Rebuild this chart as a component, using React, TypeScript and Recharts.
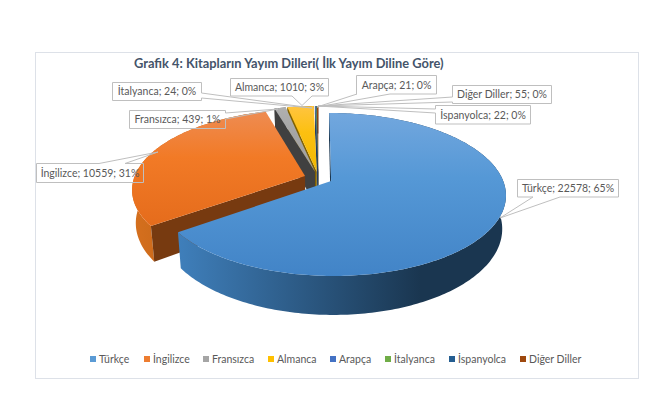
import { PieChart, Pie, Legend } from "recharts";

const NAMES = ["Türkçe", "İngilizce", "Fransızca", "Almanca", "Arapça", "İtalyanca", "İspanyolca", "Diğer Diller"];
const VALUES = [22578, 10559, 439, 1010, 21, 24, 22, 55];
const PERCENTS = [65, 31, 1, 3, 0, 0, 0, 0];
const COLORS = ["#5b9bd5", "#ed7d31", "#a5a5a5", "#ffc000", "#4472c4", "#70ad47", "#255e91", "#9e480e"];

const TOP_LIGHT = ["#72a7de", "#ee8c52", "#b0b0b0", "#ffc440", "#4472c4", "#70ad47", "#255e91", "#9e480e"];
const TOP_MID = ["#5598d6", "#f27a26", "#a5a5a5", "#fcc010", "#4472c4", "#70ad47", "#255e91", "#9e480e"];
const TOP_DARK = ["#4284c7", "#e56c1c", "#a0a0a0", "#f2b800", "#4472c4", "#70ad47", "#255e91", "#9e480e"];
const WALL_FROM = ["#3f7fbb", "#d6701e", "#555555", "#7f6000", "#223a66", "#38572a", "#12304a", "#4f2407"];
const WALL_TO = ["#1a3650", "#a85510", "#444444", "#7f6000", "#223a66", "#38572a", "#12304a", "#4f2407"];
const CUT = ["#1a3650", "#773a10", "#404040", "#7f6000", "#223a66", "#38572a", "#12304a", "#4f2407"];

// label boxes: x, y, w, h, side the pointer leaves from, pointer base a-b on that side, tip
const CALLOUTS: Record<string, { x: number; y: number; w: number; h: number; side: string; a: number; b: number; tip: number[] }> = {
  "Türkçe": { x: 517.5, y: 179.5, w: 101, h: 17.5, side: "b", a: 533, b: 560, tip: [500, 218] },
  "İngilizce": { x: 36.5, y: 163.5, w: 107, h: 19, side: "t", a: 99, b: 125, tip: [158, 152] },
  "Fransızca": { x: 129.5, y: 110.5, w: 96, h: 18, side: "r", a: 113, b: 119, tip: [278, 109] },
  "İtalyanca": { x: 112.5, y: 82.5, w: 89, h: 18, side: "r", a: 93, b: 98, tip: [312, 108] },
  "Almanca": { x: 230.5, y: 78.5, w: 98, h: 17.5, side: "b", a: 292, b: 312, tip: [302, 105.5] },
  "Arapça": { x: 356.5, y: 75.5, w: 80, h: 18.5, side: "b", a: 357, b: 390, tip: [317, 107] },
  "Diğer Diller": { x: 452.5, y: 85.5, w: 99, h: 18, side: "l", a: 97, b: 102, tip: [318, 106] },
  "İspanyolca": { x: 435.5, y: 105.5, w: 95, h: 18.5, side: "l", a: 109, b: 113, tip: [318, 106] },
};

const LEGEND_X = [90, 144, 203, 268, 330, 385, 449, 520];

const FONT = "Lato, 'Open Sans', sans-serif";
const TEXT = "#595959";

// 3d look of the pie: perspective, tilt, explosion, thickness
const PERSPECTIVE = 0.1647;
const TILT = 0.4577;
const EXPLODE = 0.083;
const DEPTH = 32.3;
const BOTTOM_SHRINK = 0.98;

const pieData = NAMES.map((name, i) => ({ name, value: VALUES[i], fill: COLORS[i] })).reverse();

function Slice3D(props: any) {
  const { cx, cy, outerRadius: R, startAngle, endAngle, name } = props;
  const i = NAMES.indexOf(name ?? props.payload?.name);
  const rad = (d: number) => (d * Math.PI) / 180;
  const t1 = 90 - Math.max(startAngle, endAngle);
  const t2 = 90 - Math.min(startAngle, endAngle);
  const mid = rad((t1 + t2) / 2);
  const u0 = EXPLODE * Math.sin(mid);
  const v0 = EXPLODE * Math.cos(mid);

  const pt = (u: number, v: number, low: boolean) => {
    const s = 1 / (1 + PERSPECTIVE * v);
    return [cx + R * u * s * (low ? BOTTOM_SHRINK : 1), cy - R * TILT * v * s + (low ? DEPTH * s : 0)];
  };
  const rim = (deg: number, low: boolean) => pt(u0 + Math.sin(rad(deg)), v0 + Math.cos(rad(deg)), low);

  const degs: number[] = [];
  for (let d = t1; d < t2; d += 1) degs.push(d);
  degs.push(t2);

  const path = (pts: number[][]) => "M" + pts.map((p) => p[0].toFixed(2) + " " + p[1].toFixed(2)).join("L") + "Z";
  const top = degs.map((d) => rim(d, false));
  const low = degs.map((d) => rim(d, true));
  const apexTop = pt(u0, v0, false);
  const apexLow = pt(u0, v0, true);

  // a cut face shows only when it turns towards the viewer
  const faces = (deg: number, sign: number) => {
    const nu = sign * Math.cos(rad(deg));
    const nv = -sign * Math.sin(rad(deg));
    return nu * (0 - u0) + nv * (-1 / PERSPECTIVE - v0) > 0;
  };
  const xs = top.map((p) => p[0]);
  const x1 = Math.min(...xs, apexTop[0]);
  const x2 = Math.max(...xs, apexTop[0]);

  return (
    <g>
      <defs>
        <linearGradient id={`top-${i}`} x1="0" y1="0" x2="0" y2="1">
          <stop offset="0" stopColor={TOP_LIGHT[i]} />
          <stop offset="0.4" stopColor={TOP_MID[i]} />
          <stop offset="1" stopColor={TOP_DARK[i]} />
        </linearGradient>
        <linearGradient id={`wall-${i}`} gradientUnits="userSpaceOnUse" x1={x1} y1="0" x2={x2} y2="0">
          <stop offset="0" stopColor={WALL_FROM[i]} />
          <stop offset="0.74" stopColor={WALL_TO[i]} />
          <stop offset="1" stopColor={WALL_TO[i]} />
        </linearGradient>
      </defs>
      <path d={path([...top, ...[...low].reverse()])} fill={`url(#wall-${i})`} />
      {faces(t1, -1) && <path d={path([apexTop, top[0], low[0], apexLow])} fill={CUT[i]} />}
      {faces(t2, 1) && <path d={path([apexTop, top[top.length - 1], low[low.length - 1], apexLow])} fill={CUT[i]} />}
      <path d={path([apexTop, ...top])} fill={`url(#top-${i})`} />
    </g>
  );
}

function calloutPath(c: (typeof CALLOUTS)[string]) {
  const r = c.x + c.w;
  const b = c.y + c.h;
  const tip = `L${c.tip[0]} ${c.tip[1]}`;
  let d = `M${c.x} ${c.y}`;
  if (c.side === "t") d += `L${c.a} ${c.y}${tip}L${c.b} ${c.y}`;
  d += `L${r} ${c.y}`;
  if (c.side === "r") d += `L${r} ${c.a}${tip}L${r} ${c.b}`;
  d += `L${r} ${b}`;
  if (c.side === "b") d += `L${c.b} ${b}${tip}L${c.a} ${b}`;
  d += `L${c.x} ${b}`;
  if (c.side === "l") d += `L${c.x} ${c.b}${tip}L${c.x} ${c.a}`;
  return d + "Z";
}

function renderLabel(props: any) {
  const name = props.name ?? props.payload?.name;
  const i = NAMES.indexOf(name);
  const c = CALLOUTS[name];
  return (
    <g key={name}>
      <path d={calloutPath(c)} fill="none" stroke="#bfbfbf" strokeWidth={1} />
      <text
        x={c.x + c.w / 2}
        y={c.y + c.h / 2 + 3.8}
        textAnchor="middle"
        fontFamily={FONT}
        fontSize={10.5}
        fill={TEXT}
      >
        {`${name}; ${VALUES[i]}; ${PERCENTS[i]}%`}
      </text>
    </g>
  );
}

function LegendRow() {
  return (
    <div style={{ position: "relative", height: 14, fontFamily: FONT, fontSize: 10.5, color: TEXT, lineHeight: "14px" }}>
      {NAMES.map((name, i) => (
        <div key={name} style={{ position: "absolute", left: LEGEND_X[i], display: "flex", alignItems: "center", whiteSpace: "nowrap" }}>
          <span style={{ width: 6, height: 6, background: COLORS[i], marginRight: 3 }} />
          {name}
        </div>
      ))}
    </div>
  );
}

export default function App() {
  return (
    <div style={{ position: "relative", width: 652, height: 418, margin: -8, background: "#fff" }}>
      <div
        style={{
          position: "absolute",
          left: 35,
          top: 52,
          width: 602,
          height: 325,
          border: "1.5px solid #dde1e8",
        }}
      />
      <div style={{ position: "absolute", left: 134, top: 55, fontFamily: FONT, fontWeight: 700, fontSize: 12.85, color: "#44546a", whiteSpace: "nowrap" }}>
        Grafik 4: Kitapların Yayım Dilleri( İlk Yayım Diline Göre)
      </div>
      <div style={{ position: "absolute", left: 0, top: 0 }}>
        <PieChart width={652} height={418} margin={{ top: 0, right: 0, bottom: 0, left: 0 }}>
          <Pie
            data={pieData}
            dataKey="value"
            nameKey="name"
            cx={318.4}
            cy={178}
            outerRadius={171}
            startAngle={-270}
            endAngle={90}
            stroke="none"
            shape={Slice3D}
            label={renderLabel}
            labelLine={false}
            isAnimationActive={false}
          />
          <Legend
            content={LegendRow}
            wrapperStyle={{ left: 0, top: 352, bottom: "auto", width: 652 }}
          />
        </PieChart>
      </div>
    </div>
  );
}
